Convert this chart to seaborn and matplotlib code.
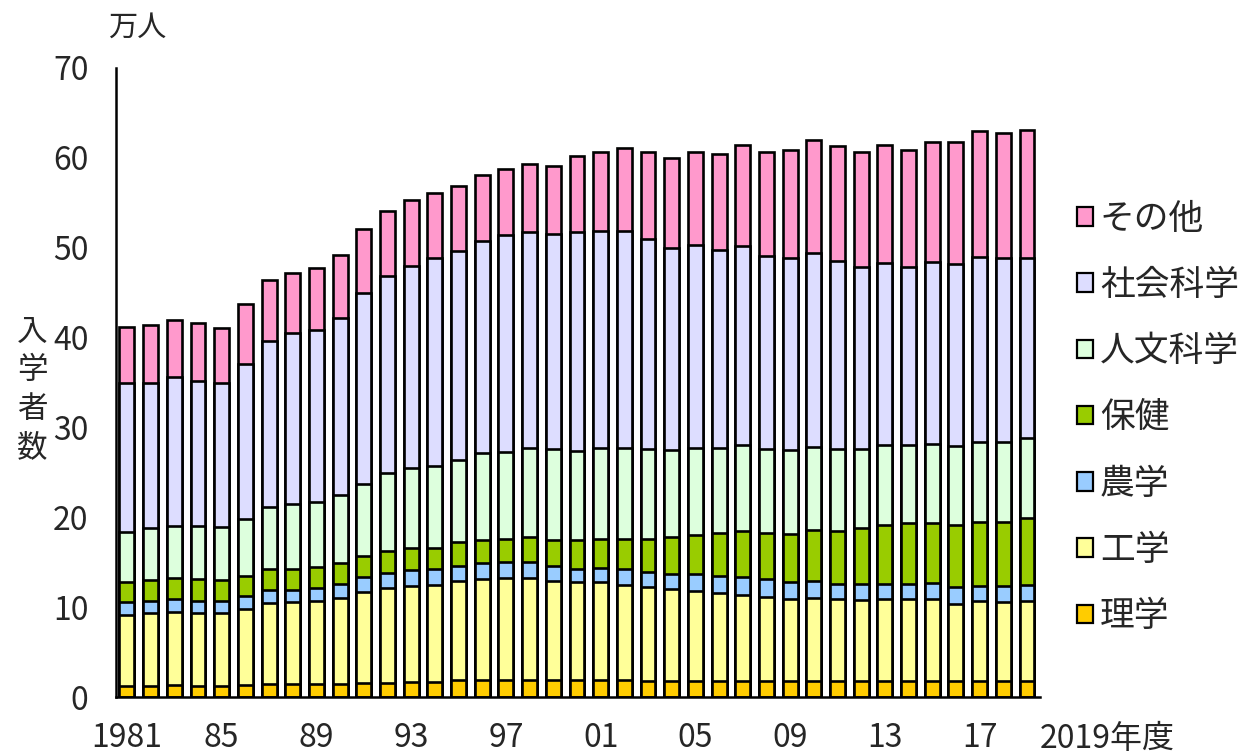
import numpy as np
import pandas as pd
import seaborn as sns
import matplotlib.pyplot as plt
from matplotlib.patches import Patch

# 年度
years = list(range(1981, 2020))

# 分野別入学者数（万人）
rigaku = [1.2, 1.2, 1.3, 1.2, 1.2, 1.3, 1.4, 1.4, 1.5, 1.5,
          1.6, 1.6, 1.7, 1.7, 1.9, 1.9, 1.9, 1.9, 1.9, 1.9,
          1.9, 1.9, 1.8, 1.8, 1.8, 1.8, 1.8, 1.8, 1.8, 1.8,
          1.8, 1.8, 1.8, 1.8, 1.8, 1.8, 1.8, 1.8, 1.8]
kougaku = [7.9, 8.2, 8.2, 8.2, 8.2, 8.5, 9.1, 9.2, 9.2, 9.5,
           10.1, 10.5, 10.7, 10.8, 11.0, 11.2, 11.3, 11.3, 11.0, 10.9,
           10.9, 10.6, 10.4, 10.2, 10.0, 9.8, 9.6, 9.3, 9.1, 9.2,
           9.1, 9.0, 9.1, 9.1, 9.1, 8.6, 8.9, 8.8, 8.9]
nougaku = [1.5, 1.3, 1.4, 1.3, 1.3, 1.4, 1.4, 1.3, 1.4, 1.6,
           1.7, 1.7, 1.7, 1.7, 1.7, 1.8, 1.8, 1.8, 1.7, 1.5,
           1.6, 1.7, 1.7, 1.7, 1.9, 1.9, 1.9, 2.0, 1.9, 1.9,
           1.7, 1.8, 1.7, 1.7, 1.8, 1.8, 1.7, 1.7, 1.8]
hoken = [2.2, 2.3, 2.3, 2.4, 2.3, 2.3, 2.3, 2.3, 2.4, 2.3,
         2.3, 2.4, 2.5, 2.4, 2.6, 2.6, 2.6, 2.8, 2.9, 3.2,
         3.2, 3.4, 3.7, 4.1, 4.3, 4.8, 5.2, 5.1, 5.3, 5.7,
         5.9, 6.2, 6.5, 6.8, 6.7, 6.9, 7.1, 7.2, 7.4]
jinbun = [5.6, 5.8, 5.8, 5.9, 5.9, 6.3, 7.0, 7.3, 7.2, 7.6,
          8.0, 8.7, 8.9, 9.1, 9.2, 9.6, 9.7, 9.9, 10.1, 9.9,
          10.1, 10.1, 10.0, 9.7, 9.7, 9.4, 9.5, 9.4, 9.4, 9.2,
          9.1, 8.8, 9.0, 8.6, 8.8, 8.8, 8.9, 8.9, 8.9]
shakai = [16.5, 16.1, 16.6, 16.2, 16.0, 17.3, 18.4, 19.0, 19.1, 19.7,
          21.3, 21.9, 22.5, 23.1, 23.2, 23.6, 24.1, 24.0, 23.9, 24.3,
          24.2, 24.2, 23.4, 22.5, 22.6, 22.1, 22.2, 21.5, 21.4, 21.6,
          20.9, 20.3, 20.2, 19.9, 20.2, 20.3, 20.6, 20.4, 20.1]
sonota = [6.3, 6.5, 6.4, 6.4, 6.2, 6.6, 6.8, 6.7, 6.9, 7.0,
          7.1, 7.3, 7.3, 7.3, 7.3, 7.4, 7.4, 7.6, 7.6, 8.5,
          8.7, 9.2, 9.7, 10.0, 10.3, 10.6, 11.2, 11.6, 12.0, 12.6,
          12.8, 12.7, 13.1, 13.0, 13.4, 13.6, 14.0, 14.0, 14.2]

fields = ["理学", "工学", "農学", "保健", "人文科学", "社会科学", "その他"]
colors = ["#FFCC00", "#FFFF99", "#99CCFF", "#99CC00", "#DDFFDD", "#DDDDFF", "#FF99CC"]

tick_labels = ["1981", "85", "89", "93", "97", "01", "05", "09", "13", "17"]

df = pd.DataFrame({"year": [str(y) for y in years]})
for name, vals in zip(fields, [rigaku, kougaku, nougaku, hoken, jinbun, shakai, sonota]):
    df[name] = vals

# 積み上げ用の累積値
cum = df[fields].cumsum(axis=1)

sns.set_style("white")
plt.rcParams["font.family"] = ["Noto Sans CJK JP", "DejaVu Sans"]

fig = plt.figure(figsize=(12.41, 7.53), dpi=100)
ax = fig.add_axes([116.3 / 1241, 1 - 697 / 753, (1040 - 116.3) / 1241, (697 - 68) / 753])

# 上の層から順に重ねて描く
for name, col in reversed(list(zip(fields, colors))):
    sns.barplot(x=df["year"], y=cum[name], color=col, width=0.63,
                edgecolor="black", linewidth=1.9, saturation=1, ax=ax)

ax.set_xlim(-0.45, 38.55)
ax.set_ylim(0, 70)
ax.set_yticks(range(0, 71, 10))
ax.set_xticks(range(0, 39, 4))
ax.set_xticklabels(tick_labels)
ax.set_xlabel("")
ax.set_ylabel("")

for s in ["top", "right"]:
    ax.spines[s].set_visible(False)
for s in ["left", "bottom"]:
    ax.spines[s].set_linewidth(1.8)
    ax.spines[s].set_color("black")

ax.tick_params(axis="y", direction="in", length=6, width=1.8, pad=20, labelsize=23)
ax.tick_params(axis="x", length=0, pad=18, labelsize=23)

fig.text(1040 / 1241, 1 - 739 / 753, "2019年度", ha="left", va="center", fontsize=23)
fig.text(137 / 1241, 1 - 28 / 753, "万人", ha="center", va="center", fontsize=21)
fig.text(32 / 1241, 1 - 390 / 753, "入\n学\n者\n数", ha="center", va="center",
         fontsize=22, linespacing=1.3)

handles = [Patch(facecolor=c, edgecolor="black", linewidth=1.6, label=f)
           for f, c in zip(fields, colors)]
handles = handles[::-1]
fig.legend(handles=handles, loc="center left", bbox_to_anchor=(1060 / 1241, 1 - 418 / 753),
           frameon=False, fontsize=25, handlelength=0.45, handleheight=0.45,
           handletextpad=0.2, labelspacing=0.9, borderpad=0)

plt.savefig("out.png", dpi=100)
